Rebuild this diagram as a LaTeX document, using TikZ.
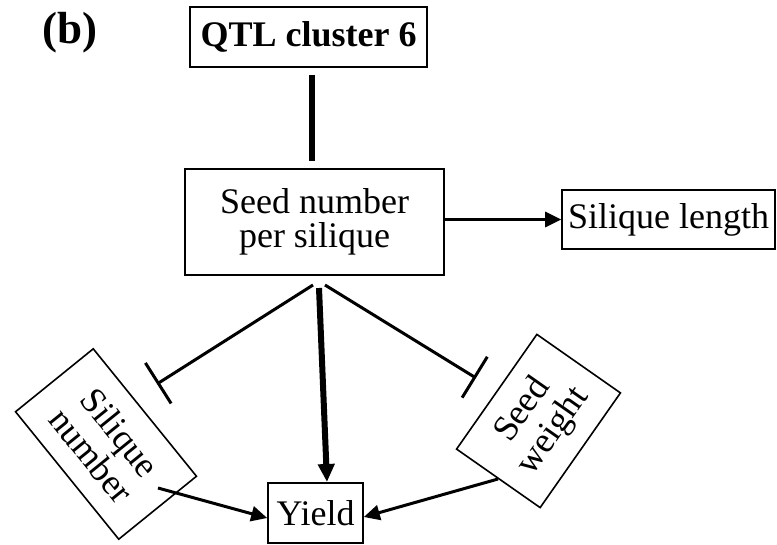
\documentclass[tikz,border=0pt]{standalone}
\usepackage{fontspec}
\setmainfont{Liberation Serif}
\usetikzlibrary{arrows.meta}
\begin{document}
\begin{tikzpicture}[x=1pt,y=-1pt,
  box/.style={draw, line width=1.6pt, inner sep=0pt, align=center,
              font=\fontsize{36}{34}\selectfont},
  link/.style={line width=3pt},
  heavy/.style={line width=6pt},
  inhib/.style={link, -{Bar[width=48pt]}},
  act/.style={link, -{Triangle[length=16pt,width=15pt]}},
  bigact/.style={heavy, -{Triangle[length=18pt,width=16pt]}},
]
\useasboundingbox (0,0) rectangle (777,544);

% panel label
\node[font=\fontsize{45}{45}\selectfont\bfseries] (lab) at (70,33) {(b)};

% boxes
\node[box, font=\fontsize{36}{36}\selectfont\bfseries,
      minimum width=237pt, minimum height=60pt] (qtl) at (308.5,37) {QTL cluster 6};
\node[box, minimum width=259pt, minimum height=106pt] (seed) at (314.5,222)
      {Seed number\\per silique};
\node[box, minimum width=213pt, minimum height=59pt] (slen) at (668.5,219.5)
      {Silique length};
\node[box, minimum width=95pt, minimum height=60pt] (yield) at (315.5,513) {Yield};
\node[box, font=\fontsize{36}{37}\selectfont, rotate=-51,
      minimum width=164pt, minimum height=100pt] (snum) at (106,444) {Silique\\number};
\node[box, font=\fontsize{36}{37}\selectfont, rotate=55,
      minimum width=140pt, minimum height=102pt] (swt) at (538.5,421) {Seed\\weight};

% connector ends
\coordinate (fanL) at (313,285);
\coordinate (fanM) at (319,288);
\coordinate (fanR) at (325,285);
\coordinate (barL) at (157,384);
\coordinate (barR) at (476,378);
\coordinate (snOut) at (158,488);
\coordinate (swOut) at (498,479);
\coordinate (yTip) at (327,482);

% QTL cluster to seed number
\draw[heavy, shorten <=7pt, shorten >=7pt]
  ([xshift=3.5pt]qtl.south) -- ([xshift=3.5pt]qtl.south |- seed.north);

% seed number to silique length
\draw[act] (seed.east |- slen.west) -- (slen.west);

% seed number to the lower traits
\draw[inhib] (fanL) -- (barL);
\draw[inhib] (fanR) -- (barR);
\draw[bigact] (fanM) -- (yTip);

% components to yield
\draw[act] (snOut) -- ([yshift=-5pt]yield.west);
\draw[act] (swOut) -- ([yshift=-4pt]yield.east);
\end{tikzpicture}
\end{document}
